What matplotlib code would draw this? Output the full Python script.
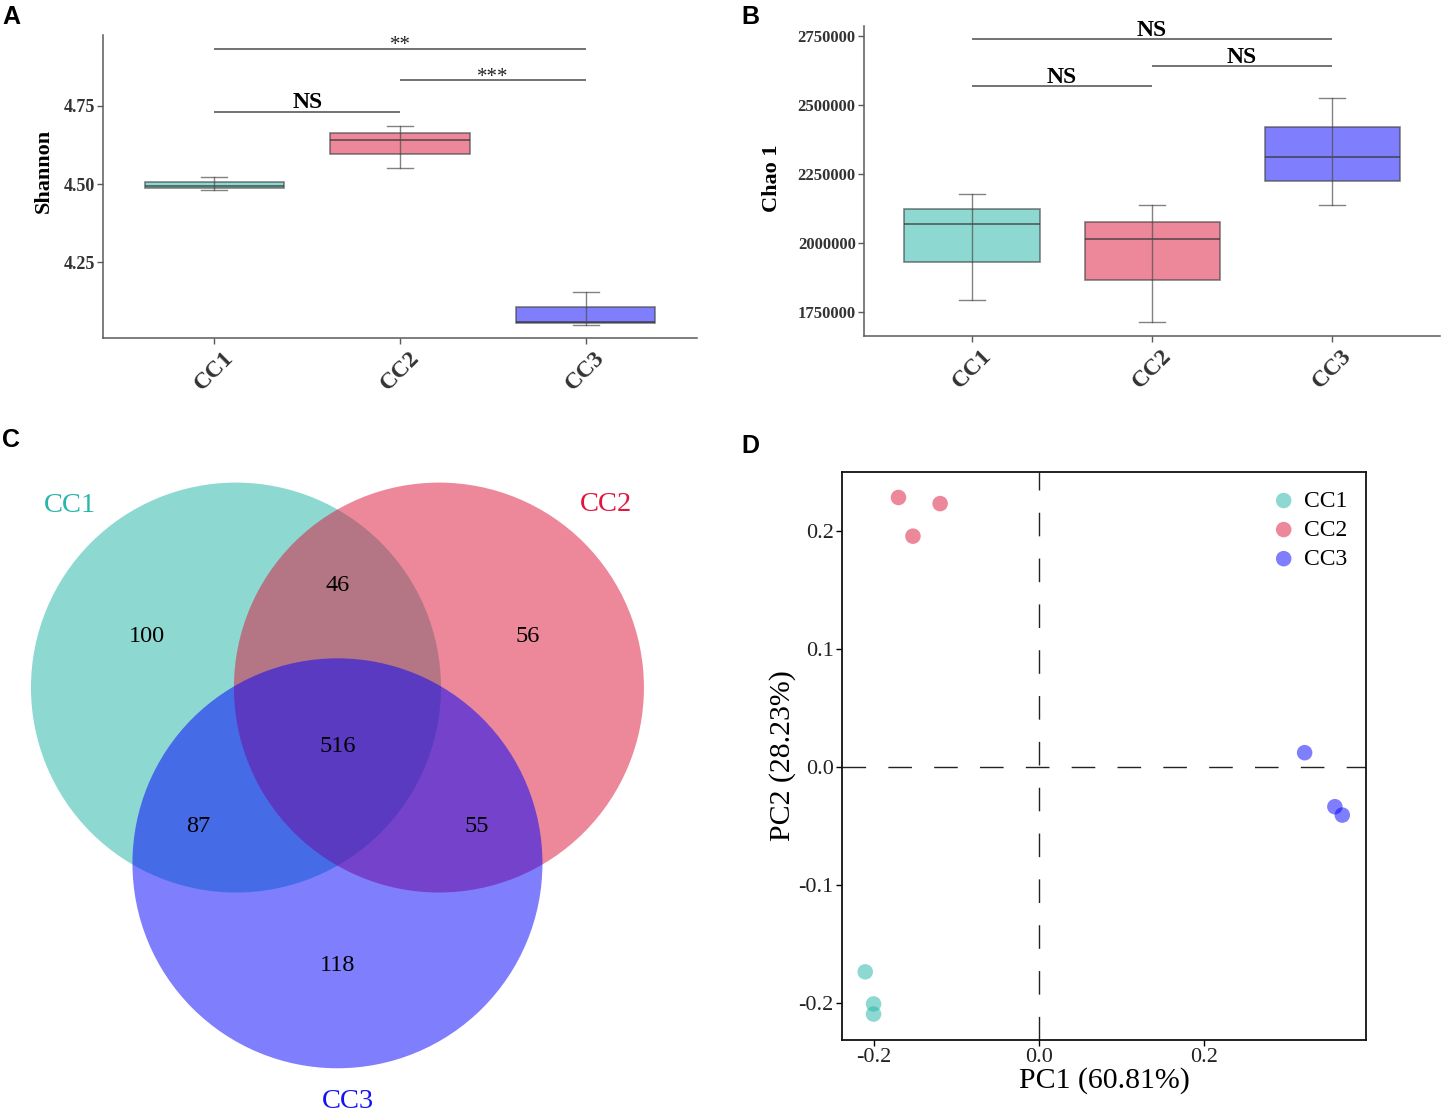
import numpy as np
import matplotlib
matplotlib.use("Agg")
import matplotlib.pyplot as plt
from matplotlib.patches import Circle

# ---------------- data ----------------
groups = ["CC1", "CC2", "CC3"]
base_colors = ["#1fb3a7", "#db1337", "#0000fd"]

# Panel A: Shannon
shannon_whislo = [4.480, 4.552, 4.050]
shannon_q1 = [4.487, 4.596, 4.055]
shannon_med = [4.495, 4.641, 4.058]
shannon_q3 = [4.508, 4.663, 4.106]
shannon_whishi = [4.524, 4.686, 4.154]
shannon_ticks = [4.25, 4.50, 4.75]
shannon_pairs = [(1, 2), (2, 3), (1, 3)]
shannon_sig_y = [4.731, 4.832, 4.932]
shannon_sig_text = ["NS", "***", "**"]

# Panel B: Chao 1
chao_whislo = [1792500, 1713600, 2137000]
chao_q1 = [1931800, 1864200, 2222700]
chao_med = [2068900, 2013300, 2312500]
chao_q3 = [2123500, 2075100, 2419100]
chao_whishi = [2178000, 2137000, 2527100]
chao_ticks = [1750000, 2000000, 2250000, 2500000, 2750000]
chao_pairs = [(1, 2), (2, 3), (1, 3)]
chao_sig_y = [2569700, 2642500, 2739600]
chao_sig_text = ["NS", "NS", "NS"]

# Panel C: Venn counts
venn_only = [100, 56, 118]          # CC1, CC2, CC3 only
venn_pairs = [46, 87, 55]           # CC1&CC2, CC1&CC3, CC2&CC3
venn_all = 516

# Panel D: PCA
pc1_cc1 = [-0.2101, -0.2000, -0.2000]
pc2_cc1 = [-0.1739, -0.2011, -0.2097]
pc1_cc2 = [-0.1698, -0.1194, -0.1523]
pc2_cc2 = [0.2283, 0.2231, 0.1955]
pc1_cc3 = [0.3220, 0.3586, 0.3676]
pc2_cc3 = [0.0119, -0.0339, -0.0410]
pca_ticks = [-0.2, 0.0, 0.2]
pca_yticks = [-0.2, -0.1, 0.0, 0.1, 0.2]

# ---------------- style ----------------
plt.rcParams["font.family"] = ["Liberation Serif", "DejaVu Serif"]
W, H = 1445, 1118
fig = plt.figure(figsize=(W / 100, H / 100), dpi=100)

def px_axes(x0, y0, x1, y1):
    return fig.add_axes([x0 / W, 1 - y1 / H, (x1 - x0) / W, (y1 - y0) / H])

edge_col = (0.25, 0.25, 0.25, 0.65)
line_col = "#5a5a5a"
positions = [1, 2, 3]

def box_panel(ax, lo, q1, med, q3, hi, pairs, sig_y, sig_text, ticks, ylim,
              ylabel, tick_fs, tick_fmt, ylabel_xy):
    stats = [dict(med=m, q1=a, q3=b, whislo=l, whishi=h, fliers=[])
             for l, a, m, b, h in zip(lo, q1, med, q3, hi)]
    bp = ax.bxp(stats, positions=positions, widths=0.75, patch_artist=True,
                showfliers=False, capwidths=0.14,
                boxprops=dict(edgecolor=edge_col, linewidth=1.2),
                medianprops=dict(color=(0.2, 0.2, 0.2, 0.75), linewidth=1.2),
                whiskerprops=dict(color=(0.3, 0.3, 0.3, 0.7), linewidth=1.0),
                capprops=dict(color=(0.3, 0.3, 0.3, 0.7), linewidth=1.0))
    for patch, c in zip(bp["boxes"], base_colors):
        rgb = matplotlib.colors.to_rgb(c)
        patch.set_facecolor((*rgb, 0.5))
    # whisker line through the box
    ax.vlines(positions, q1, q3, color=(0.3, 0.3, 0.3, 0.7), linewidth=1.0, zorder=3)
    for (i, j), y, t in zip(pairs, sig_y, sig_text):
        ax.plot([i, j], [y, y], color=line_col, linewidth=1.2, solid_capstyle="butt")
        if t == "NS":
            ax.annotate(t, xy=((i + j) / 2, y), xytext=(0, 2.5), textcoords="offset points",
                        ha="center", va="baseline", fontsize=17, fontweight="bold")
        else:
            ax.annotate(t, xy=((i + j) / 2, y), xytext=(0, -1.0), textcoords="offset points",
                        ha="center", va="baseline", fontsize=15, color="#222222")
    ax.set_xlim(0.4, 3.6)
    ax.set_ylim(*ylim)
    ax.set_yticks(ticks)
    ax.set_yticklabels([tick_fmt(t) for t in ticks], fontsize=tick_fs, fontweight="bold",
                       color="#333333")
    ax.set_xticks(positions)
    ax.set_xticklabels(groups, rotation=45, ha="center", va="top", fontsize=17,
                       fontweight="bold", color="#333333")
    for s in ["top", "right"]:
        ax.spines[s].set_visible(False)
    for s in ["left", "bottom"]:
        ax.spines[s].set_color(line_col)
        ax.spines[s].set_linewidth(1.1)
    ax.tick_params(axis="both", direction="out", length=4, color=line_col, width=1.0)
    ax.tick_params(axis="x", pad=3)
    ax.tick_params(axis="y", pad=2)
    ax.set_ylabel(ylabel, fontsize=16, fontweight="bold")
    ax.yaxis.set_label_coords(*ylabel_xy)

# Panel A
axA = px_axes(103, 35, 697, 338)
box_panel(axA, shannon_whislo, shannon_q1, shannon_med, shannon_q3, shannon_whishi,
          shannon_pairs, shannon_sig_y, shannon_sig_text, shannon_ticks,
          (4.008, 4.977), "Shannon", 13, lambda t: f"{t:.2f}", (-0.083, 0.55))

# Panel B
axB = px_axes(864, 26, 1440, 336)
box_panel(axB, chao_whislo, chao_q1, chao_med, chao_q3, chao_whishi,
          chao_pairs, chao_sig_y, chao_sig_text, chao_ticks,
          (1661000, 2788000), "Chao 1", 12, lambda t: f"{int(t)}", (-0.142, 0.51))

# Panel C: Venn
axC = px_axes(0, 425, 720, 1118)
s = 0.99
r = 1.0
centers = np.array([[-s / 2, 0.0], [s / 2, 0.0], [0.0, -s * np.sqrt(3) / 2]])
for c, col in zip(centers, base_colors):
    axC.add_patch(Circle(c, r, facecolor=col, alpha=0.5, edgecolor="none"))
g = centers.mean(axis=0)

def unit(v):
    return v / np.linalg.norm(v)

num_fs = 17.5
for c, n in zip(centers, venn_only):
    p = c + 0.5 * unit(c - g)
    axC.text(p[0], p[1], str(n), ha="center", va="center", fontsize=num_fs)
for (i, j), n in zip([(0, 1), (0, 2), (1, 2)], venn_pairs):
    m = (centers[i] + centers[j]) / 2
    p = m + 0.5 * unit(m - g)
    axC.text(p[0], p[1], str(n), ha="center", va="center", fontsize=num_fs)
axC.text(g[0], g[1], str(venn_all), ha="center", va="center", fontsize=num_fs)

label_angles = [132.4, 47.6, -87.5]
label_dist = [1.2, 1.21, 1.164]
label_colors = ["#2ab5aa", "#e0163f", "#1414f0"]
for c, a, d, name, col in zip(centers, label_angles, label_dist, groups, label_colors):
    p = c + d * np.array([np.cos(np.radians(a)), np.sin(np.radians(a))])
    axC.text(p[0], p[1], name, ha="center", va="center", fontsize=20.5, color=col)
axC.set_xlim(-1.646, 1.866)
axC.set_ylim(-2.10, 1.281)
axC.axis("off")

# Panel D: PCA
axD = px_axes(842, 472, 1366, 1040)
axD.axvline(0, color="#222222", linewidth=1.0, linestyle=(0, (17, 16)), zorder=1)
axD.axhline(0, color="#222222", linewidth=1.0, linestyle=(0, (17, 16)), zorder=1)
for xs, ys, col, name in zip([pc1_cc1, pc1_cc2, pc1_cc3], [pc2_cc1, pc2_cc2, pc2_cc3],
                             base_colors, groups):
    axD.scatter(xs, ys, s=125, color=col, alpha=0.5, edgecolors="none", label=name, zorder=3)
axD.set_xlim(-0.2382, 0.3963)
axD.set_ylim(-0.2317, 0.2499)
axD.set_xticks(pca_ticks)
axD.set_xticklabels([f"{t:.1f}" for t in pca_ticks], fontsize=16, color="#222222")
axD.set_yticks(pca_yticks)
axD.set_yticklabels([f"{t:.1f}" for t in pca_yticks], fontsize=16, color="#222222")
axD.tick_params(direction="out", length=4, width=1.0, pad=2)
for sp in axD.spines.values():
    sp.set_linewidth(1.3)
    sp.set_color("#111111")
axD.set_xlabel("PC1 (60.81%)", fontsize=21.5, labelpad=0)
axD.set_ylabel("PC2 (28.23%)", fontsize=21.5, labelpad=2)
leg = axD.legend(loc="upper right", bbox_to_anchor=(0.964, 0.968), frameon=False,
                 fontsize=17, handlelength=0.9, handletextpad=0.4, labelspacing=0.32,
                 borderpad=0, borderaxespad=0)

# Panel letters
for letter, (x, y) in zip("ABCD", [(2, 5), (741, 5), (2, 428), (741, 434)]):
    fig.text(x / W, 1 - y / H, letter, ha="left", va="top", fontsize=18,
             fontweight="bold", family="Liberation Sans")

fig.savefig("out.png", dpi=100)
